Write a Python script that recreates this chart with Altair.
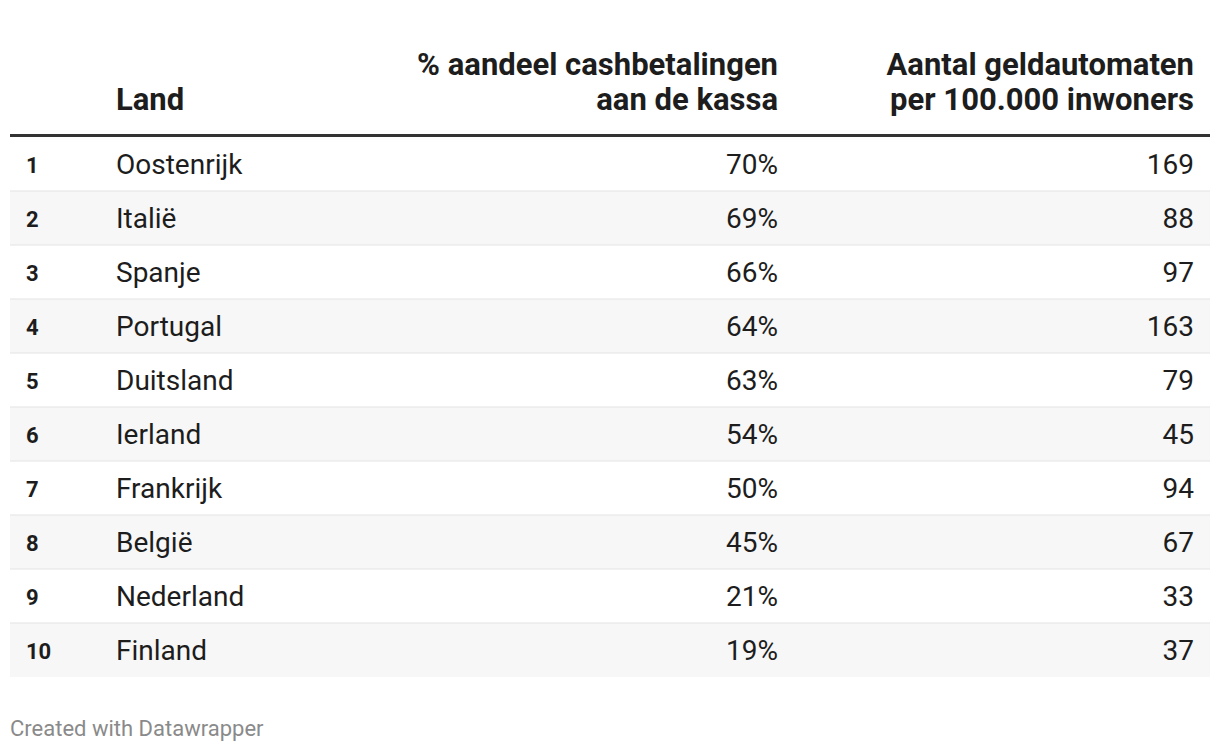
import altair as alt
import pandas as pd

# ---- data ----
ranks = [1, 2, 3, 4, 5, 6, 7, 8, 9, 10]
countries = ["Oostenrijk", "Italië", "Spanje", "Portugal", "Duitsland",
             "Ierland", "Frankrijk", "België", "Nederland", "Finland"]
cash_share = [70, 69, 66, 64, 63, 54, 50, 45, 21, 19]
atms_per_100k = [169, 88, 97, 163, 79, 45, 94, 67, 33, 37]

header_land = ["Land"]
header_cash = ["% aandeel cashbetalingen", "aan de kassa"]
header_atm = ["Aantal geldautomaten", "per 100.000 inwoners"]
footer_text = "Created with Datawrapper"

FONT = "Roboto"
TXT = "#1d1d1d"

df = pd.DataFrame({
    "rank": [str(r) for r in ranks],
    "rank_n": ranks,
    "country": countries,
    "cash": [f"{v}%" for v in cash_share],
    "atm": [str(v) for v in atms_per_100k],
})

yscale = alt.Scale(domain=[str(r) for r in ranks], range=[129, 669],
                   paddingInner=0, paddingOuter=0)
Y = alt.Y("rank:O", scale=yscale, axis=None)
Ybottom = alt.Y("rank:O", scale=yscale, axis=None, bandPosition=1)

base = alt.Chart(df)

shade = base.transform_filter("datum.rank_n % 2 == 0").mark_rect(
    fill="#f7f7f7").encode(y=Y, x=alt.value(2), x2=alt.value(1202))

seps = base.transform_filter("datum.rank_n < 10").mark_rule(
    color="#e3e3e3", strokeWidth=1).encode(y=Ybottom, x=alt.value(2), x2=alt.value(1202))

rank_txt = base.mark_text(align="left", baseline="middle", font=FONT, dy=2,
                          fontSize=22, fontWeight="bold", color=TXT).encode(
    y=Y, x=alt.value(18), text="rank:N")
country_txt = base.mark_text(align="left", baseline="middle", font=FONT, dy=2,
                             fontSize=28, color=TXT).encode(
    y=Y, x=alt.value(108), text="country:N")
cash_txt = base.mark_text(align="right", baseline="middle", font=FONT, dy=2,
                          fontSize=28, color=TXT).encode(
    y=Y, x=alt.value(770), text="cash:N")
atm_txt = base.mark_text(align="right", baseline="middle", font=FONT, dy=2,
                         fontSize=28, color=TXT).encode(
    y=Y, x=alt.value(1186), text="atm:N")

hdr_rule = alt.Chart(pd.DataFrame({"a": [0]})).mark_rule(
    color="#333333", strokeWidth=3).encode(
    y=alt.value(127.5), x=alt.value(2), x2=alt.value(1202))

def header(lines, xpos, align):
    n = len(lines)
    hdf = pd.DataFrame({"t": lines, "i": list(range(n))})
    # last line sits on the lower header row
    return alt.Chart(hdf).transform_calculate(
        yy=f"93 - ({n - 1} - datum.i) * 35").mark_text(
        align=align, baseline="middle", font=FONT, fontSize=31,
        fontWeight="bold", color=TXT).encode(
        x=alt.value(xpos),
        y=alt.Y("yy:Q", scale=None),
        text="t:N")

h_land = header(header_land, 108, "left")
h_cash = header(header_cash, 770, "right")
h_atm = header(header_atm, 1186, "right")

footer = alt.Chart(pd.DataFrame({"t": [footer_text]})).mark_text(
    align="left", baseline="middle", font=FONT, fontSize=22,
    color="#8a8a8a").encode(x=alt.value(2), y=alt.value(721), text="t:N")

chart = alt.layer(
    shade, seps, hdr_rule, rank_txt, country_txt, cash_txt, atm_txt,
    h_land, h_cash, h_atm, footer
).properties(
    width=1204, height=736,
    autosize=alt.AutoSizeParams(type="none"),
    padding=0,
    background="white",
).configure_view(stroke=None)

chart.save("out.html", embed_options={"renderer": "svg", "actions": False})
